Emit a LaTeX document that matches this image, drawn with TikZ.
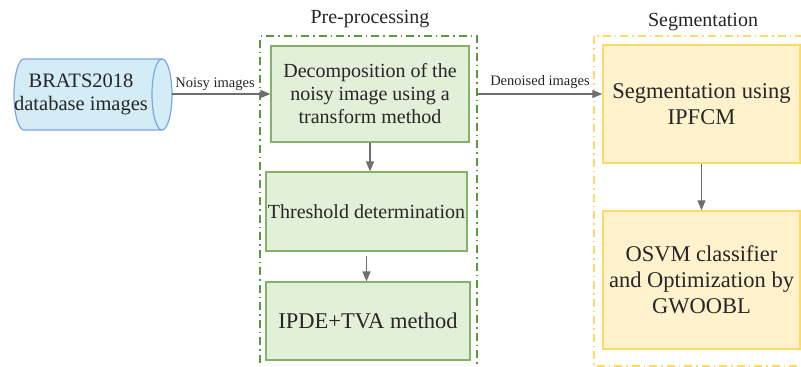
\documentclass[tikz,border=0pt]{standalone}
\usepackage{fontspec}
\setmainfont{Liberation Serif}
\usetikzlibrary{arrows.meta,calc}
\definecolor{txt}{HTML}{262626}
\definecolor{arr}{HTML}{6E6E6E}
\definecolor{gfill}{HTML}{E2EFD9}
\definecolor{gline}{HTML}{82B366}
\definecolor{gdash}{HTML}{5A9A3C}
\definecolor{yfill}{HTML}{FFF2CC}
\definecolor{yline}{HTML}{FFD966}
\definecolor{bfill}{HTML}{D3ECF5}
\definecolor{bline}{HTML}{7EA6E0}
\tikzset{
  big/.style={font=\fontsize{20}{23}\selectfont, text=txt, align=center},
  bigger/.style={font=\fontsize{22.5}{26}\selectfont},
  small/.style={font=\fontsize{14.5}{16}\selectfont, text=txt},
  greenbox/.style={big, draw=gline, fill=gfill, line width=1.2pt, inner sep=0pt},
  yellowbox/.style={big, bigger, draw=yline, fill=yfill, line width=1.5pt, inner sep=0pt},
  group/.style={line width=1.2pt, dash pattern=on 8pt off 4pt on 1.5pt off 4pt},
  flow/.style={draw=arr, line width=1.2pt, -{Triangle[length=10pt,width=8pt,fill=arr]}},
}
\begin{document}
\begin{tikzpicture}[x=1pt,y=-1pt]
\useasboundingbox (0,0) rectangle (801,367);

% group frames
\draw[group, draw=gdash] (260,380) -- (260,36) -- (477,36) -- (477,380);
\coordinate (preE) at (477,94);
\draw[group, draw=yline, line width=1.5pt] (594,36) rectangle (806,366);
\node[big] (pretitle) at (370,19) {Pre-processing};
\node[big] (segtitle) at (703,22) {Segmentation};

% database cylinder
\fill[bfill] (24,59) -- (162,59) arc[start angle=-90,end angle=90,x radius=10,y radius=35.5]
  -- (24,130) arc[start angle=90,end angle=270,x radius=10,y radius=35.5] -- cycle;
\draw[bline, line width=1.2pt] (162,59) -- (24,59) arc[start angle=270,end angle=90,x radius=10,y radius=35.5] -- (162,130);
\draw[bline, line width=1.2pt] (162,94.5) ellipse[x radius=10, y radius=35.5];
\coordinate (dbE) at (172,94);
\node[big, font=\fontsize{20.5}{23}\selectfont] (db) at (81,94.5) {BRATS2018\\database images};

% pre-processing steps
\node[greenbox, minimum width=198pt, minimum height=96pt] (b1) at (370,94) {Decomposition of the\\noisy image using a\\transform method};
\node[greenbox, minimum width=201pt, minimum height=79pt] (b2) at (366.5,211.5) {Threshold determination};
\node[greenbox, bigger, minimum width=204pt, minimum height=78pt] (b3) at (368,321) {IPDE+TVA method};

% segmentation steps
\node[yellowbox, minimum width=197pt, minimum height=118pt] (s1) at (701.5,104) {Segmentation using\\IPFCM};
\node[yellowbox, minimum width=197pt, minimum height=138pt] (s2) at (701.5,280) {OSVM classifier\\and Optimization by\\GWOOBL};

% connectors
\draw[flow] (dbE) -- (b1.west |- dbE);
\node[small] (noisy) at (215,84) {Noisy images};
\draw[flow] (b1.south) -- (b1.south |- b2.north);
\draw[flow] ($(b2.south)+(0,4)$) -- (b2.south |- b3.north);
\draw[flow] (preE) -- (s1.west |- preE);
\node[small] (denoised) at (540,82) {Denoised images};
\draw[flow] (s1.south) -- (s2.north);
\end{tikzpicture}
\end{document}
